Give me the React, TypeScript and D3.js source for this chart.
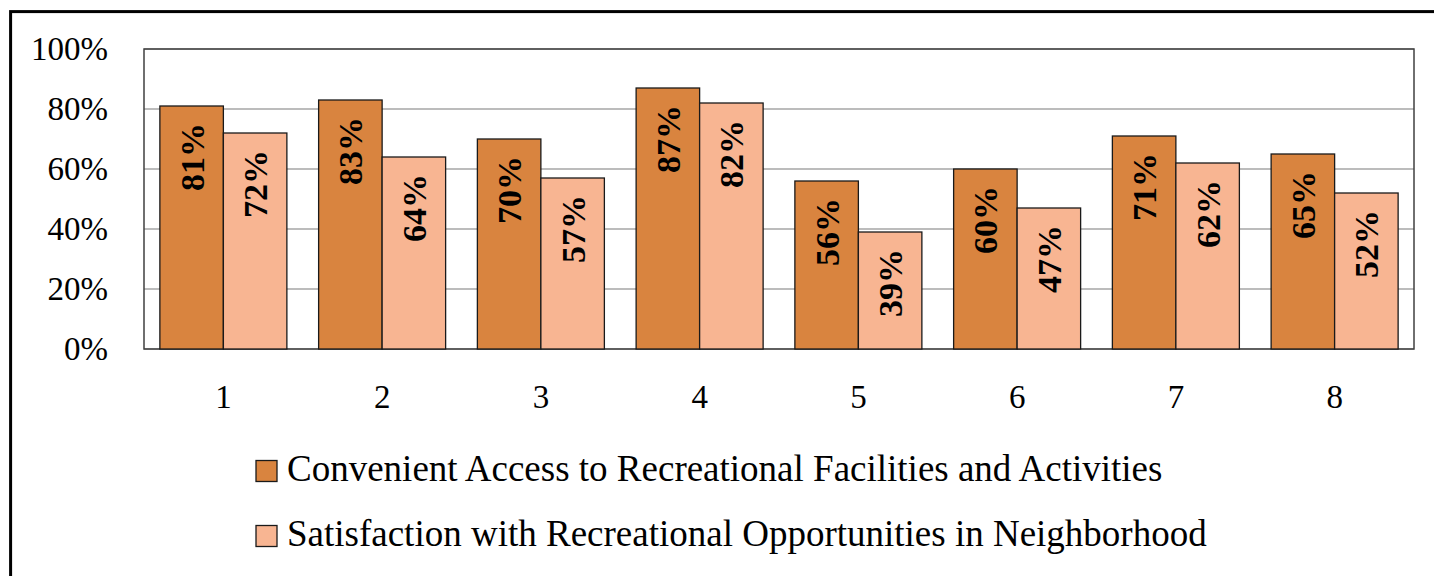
import React from "react";
import * as d3 from "d3";

const categories = ["1", "2", "3", "4", "5", "6", "7", "8"];
const seriesNames = [
  "Convenient Access to Recreational Facilities and Activities",
  "Satisfaction with Recreational Opportunities in Neighborhood",
];
const convenientAccess = [81, 83, 70, 87, 56, 60, 71, 65];
const satisfaction = [72, 64, 57, 82, 39, 47, 62, 52];
const yTicks = [0, 20, 40, 60, 80, 100];
const colors = ["#D9843F", "#F8B592"];

const W = 1434;
const H = 576;
const FONT = "'Liberation Serif', 'Times New Roman', serif";

export default function App() {
  const plot = { left: 144, right: 1414, top: 49, bottom: 349 };
  const x = d3
    .scaleBand<string>()
    .domain(categories)
    .range([plot.left, plot.right])
    .paddingInner(0)
    .paddingOuter(0);
  const y = d3.scaleLinear().domain([0, 100]).range([plot.bottom, plot.top]);
  const bw = x.bandwidth();
  const barW = bw / 2.5;
  const gap = (bw - 2 * barW) / 2;
  const series = [convenientAccess, satisfaction];

  return (
    <svg
      width={W}
      height={H}
      style={{ position: "absolute", left: 0, top: 0, background: "#fff" }}
      fontFamily={FONT}
    >
      <rect x={0} y={0} width={W} height={H} fill="#fff" />
      {/* outer frame */}
      <rect x={10.6} y={11.6} width={2000} height={2000} fill="none" stroke="#000" strokeWidth={3} />

      {/* gridlines */}
      {yTicks.map((t) => (
        <line
          key={"g" + t}
          x1={plot.left}
          x2={plot.right}
          y1={y(t)}
          y2={y(t)}
          stroke="#a6a6a6"
          strokeWidth={1.5}
        />
      ))}
      {/* plot border */}
      <rect
        x={plot.left}
        y={plot.top}
        width={plot.right - plot.left}
        height={plot.bottom - plot.top}
        fill="none"
        stroke="#404040"
        strokeWidth={1.5}
      />

      {/* bars */}
      {series.map((vals, si) =>
        vals.map((v, i) => {
          const bx = (x(categories[i]) as number) + gap + si * barW;
          return (
            <rect
              key={`b${si}-${i}`}
              x={bx}
              y={y(v)}
              width={barW}
              height={y(0) - y(v)}
              fill={colors[si]}
              stroke="#1a1a1a"
              strokeWidth={1.3}
            />
          );
        })
      )}

      {/* bar labels */}
      {series.map((vals, si) =>
        vals.map((v, i) => {
          const cx = (x(categories[i]) as number) + gap + si * barW + barW / 2;
          const ty = y(v) + 17;
          return (
            <text
              key={`l${si}-${i}`}
              transform={`translate(${cx + 12},${ty}) rotate(-90)`}
              textAnchor="end"
              fontSize={34}
              fontWeight="bold"
              fill="#000"
            >
              {v}%
            </text>
          );
        })
      )}

      {/* y tick labels */}
      {yTicks.map((t) => (
        <text
          key={"y" + t}
          x={108}
          y={y(t) + 10.5}
          textAnchor="end"
          fontSize={33}
          fill="#000"
        >
          {t}%
        </text>
      ))}

      {/* x tick labels */}
      {categories.map((c) => (
        <text
          key={"x" + c}
          x={(x(c) as number) + bw / 2}
          y={408}
          textAnchor="middle"
          fontSize={33}
          fill="#000"
        >
          {c}
        </text>
      ))}

      {/* legend */}
      {seriesNames.map((name, i) => {
        const ly = [460.5, 525.5][i];
        return (
          <g key={"lg" + i}>
            <rect x={256} y={ly} width={21} height={21} fill={colors[i]} stroke="#1a1a1a" strokeWidth={1.3} />
            <text x={287} y={ly + 20.5} fontSize={37} fill="#000">
              {name}
            </text>
          </g>
        );
      })}
    </svg>
  );
}
